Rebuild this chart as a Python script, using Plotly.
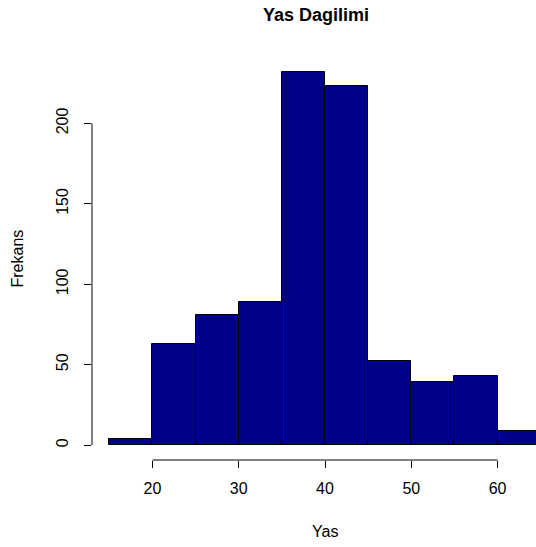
import plotly.graph_objects as go

# Data
breaks = [15, 20, 25, 30, 35, 40, 45, 50, 55, 60, 65]
counts = [4, 63, 81, 89, 232, 223, 52, 39, 43, 9]
x_ticks = [20, 30, 40, 50, 60]
y_ticks = [0, 50, 100, 150, 200]
title_text = "Yas Dagilimi"
x_title = "Yas"
y_title = "Frekans"

W, H = 536, 547
ML, MT, MR = 92, 57, 0
MB = H - 460
plot_w = W - ML - MR
plot_h = H - MT - MB

mids = [(breaks[i] + breaks[i + 1]) / 2 for i in range(len(counts))]
widths = [breaks[i + 1] - breaks[i] for i in range(len(counts))]

# R-style 4% padding; the original plot region extends past the right edge
xlo = breaks[0] - 0.04 * (breaks[-1] - breaks[0])
xhi_full = breaks[-1] + 0.04 * (breaks[-1] - breaks[0])
full_w_px = 466.0
xhi = xlo + (xhi_full - xlo) * plot_w / full_w_px
ymax = max(counts)
ylo, yhi = -0.04 * ymax, 1.04 * ymax

font = "Liberation Sans, Arial, Helvetica, sans-serif"

fig = go.Figure(
    go.Bar(
        x=mids,
        y=counts,
        width=widths,
        marker=dict(color="#00008B", line=dict(color="black", width=1)),
        hoverinfo="x+y",
    )
)

fig.update_layout(
    width=W,
    height=H,
    margin=dict(l=ML, r=MR, t=MT, b=MB, autoexpand=False),
    paper_bgcolor="white",
    plot_bgcolor="white",
    showlegend=False,
    font=dict(family=font, size=16, color="black"),
    title=dict(
        text="<b>" + title_text + "</b>",
        font=dict(family=font, size=18, color="black"),
        xref="paper",
        x=(316 - ML) / plot_w,
        xanchor="center",
        yref="container",
        y=1 - 15 / H,
        yanchor="middle",
    ),
    xaxis=dict(
        range=[xlo, xhi],
        tickvals=x_ticks,
        ticktext=[str(v) for v in x_ticks],
        ticks="outside",
        ticklen=7,
        tickwidth=1,
        tickcolor="black",
        showgrid=False,
        zeroline=False,
        showline=False,
        ticklabelstandoff=7,
        tickfont=dict(family=font, size=16, color="black"),
        fixedrange=True,
    ),
    yaxis=dict(
        range=[ylo, yhi],
        tickvals=y_ticks,
        ticktext=[str(v) for v in y_ticks],
        ticks="outside",
        ticklen=7,
        tickwidth=1,
        tickcolor="black",
        tickangle=-90,
        showgrid=False,
        zeroline=False,
        showline=False,
        ticklabelstandoff=10,
        tickfont=dict(family=font, size=16, color="black"),
        fixedrange=True,
    ),
    bargap=0,
)

# R-style axis lines spanning only the tick range
fig.add_shape(type="line", xref="x", yref="paper", x0=min(x_ticks), x1=max(x_ticks),
              y0=0, y1=0, line=dict(color="black", width=1))
fig.add_shape(type="line", xref="paper", yref="y", x0=0, x1=0,
              y0=min(y_ticks), y1=max(y_ticks), line=dict(color="black", width=1))

fig.add_annotation(text=x_title, xref="paper", yref="paper",
                   x=(325 - ML) / plot_w, y=(460 - 531.7) / plot_h,
                   xanchor="center", yanchor="middle", showarrow=False,
                   font=dict(family=font, size=16, color="black"))
fig.add_annotation(text=y_title, xref="paper", yref="paper",
                   x=(17 - ML) / plot_w, y=0.5, textangle=-90,
                   xanchor="center", yanchor="middle", showarrow=False,
                   font=dict(family=font, size=16, color="black"))

fig.write_html(
    "out.html",
    config={"displayModeBar": False},
    post_script="document.body.style.margin='0';document.body.style.overflow='hidden';",
)
